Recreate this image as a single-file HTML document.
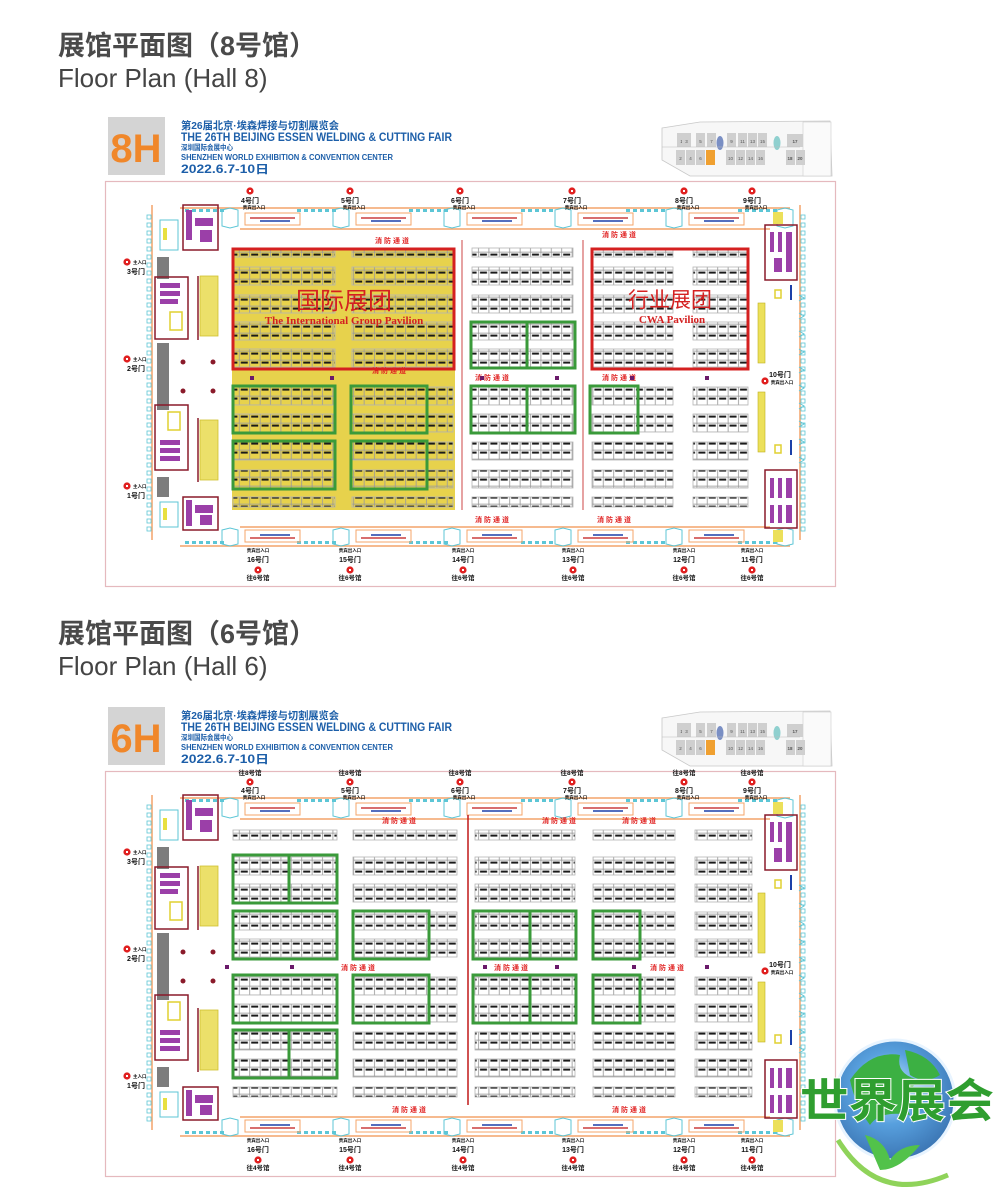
<!DOCTYPE html>
<html><head><meta charset="utf-8">
<style>
html,body{margin:0;padding:0;background:#fff;width:1000px;height:1200px;overflow:hidden}
svg{display:block}
.t{font-family:"Liberation Sans","Noto Sans CJK SC",sans-serif}
</style></head><body>
<svg id="s" width="1000" height="1200" viewBox="0 0 1000 1200" xmlns="http://www.w3.org/2000/svg">
<defs>
<pattern id="bp" patternUnits="userSpaceOnUse" width="10.4" height="9">
<rect x="0.25" y="0.25" width="10.15" height="8.75" fill="none" stroke="#9a9a9a" stroke-width="0.6"/>
<rect x="1.6" y="1.6" width="7" height="2" fill="#1a1a1a"/>
</pattern>
<radialGradient id="gl" cx="45%" cy="40%" r="60%">
<stop offset="0" stop-color="#bfe6ff"/><stop offset="0.5" stop-color="#3a8fd8"/><stop offset="1" stop-color="#1a5fa8"/>
</radialGradient>
</defs>
<g class="t" fill="#4a4a4a" font-weight="bold">
<text x="58" y="55" font-size="27">展馆平面图（8号馆）</text>
<text x="58" y="87" font-size="26" font-weight="normal" fill="#444">Floor Plan (Hall 8)</text>
<text x="58" y="643" font-size="27">展馆平面图（6号馆）</text>
<text x="58" y="675" font-size="26" font-weight="normal" fill="#444">Floor Plan (Hall 6)</text>
</g>
<g id="h8"></g>
<g id="h6" transform="translate(0,590)"></g>
<!-- logo -->
<g>
<circle cx="895" cy="1100" r="60" fill="url(#gl)" opacity="0.85"/>
<circle cx="895" cy="1100" r="60" fill="none" stroke="#e8f4ff" stroke-width="3"/>
<path d="M850 1080 q20 -30 50 -25 q-5 20 20 25 q-20 15 -10 35 q-30 -5 -40 10 q-15 -20 -20 -45z" fill="#3cb043"/>
<path d="M905 1050 q25 5 35 25 q-15 10 -30 0z" fill="#3cb043"/>
<path d="M865 1135 q20 5 25 25 q10 -15 30 -15 q-20 25 -40 25z" fill="#52c24a"/>
<path d="M838 1140 q40 65 110 35" stroke="#8fd35a" stroke-width="5" fill="none"/>
<text x="897" y="1117" text-anchor="middle" class="t" font-size="46" font-weight="bold" fill="#2f9e2f" stroke="#fff" stroke-width="2" paint-order="stroke" textLength="194" lengthAdjust="spacingAndGlyphs">世界展会</text>
</g>
</svg>
<script>
var NS="http://www.w3.org/2000/svg";
function el(g,tag,a,txt){var e=document.createElementNS(NS,tag);for(var k in a)e.setAttribute(k,a[k]);if(txt!==undefined)e.textContent=txt;g.appendChild(e);return e;}
function R(g,x,y,w,h,f,s,sw){return el(g,"rect",{x:x,y:y,width:w,height:h,fill:f||"none",stroke:s||"none","stroke-width":sw||1});}
function T(g,x,y,txt,sz,col,anc,extra){var a={x:x,y:y,"font-size":sz,fill:col||"#111","class":"t","text-anchor":anc||"start","font-weight":"bold"};for(var k in extra)a[k]=extra[k];return el(g,"text",a,txt);}
function L(g,x1,y1,x2,y2,c,w){return el(g,"line",{x1:x1,y1:y1,x2:x2,y2:y2,stroke:c,"stroke-width":w||1});}
function diamond(g,x,y){el(g,"circle",{cx:x,cy:y,r:3.6,fill:"#e02020"});R(g,x-1,y-1,2,2,"#fff");}

function hall(g,num,isH6){
  R(g,108,117,57,58,"#d4d4d4");
  T(g,136,162,num+"H",40,"#f0872a","middle");
  var b="#1d5fa9";
  T(g,181,129,"第26届北京·埃森焊接与切割展览会",10.5,b,"start",{textLength:158,lengthAdjust:"spacingAndGlyphs"});
  T(g,181,141,"THE 26TH BEIJING ESSEN WELDING & CUTTING FAIR",12,b,"start",{textLength:271,lengthAdjust:"spacingAndGlyphs"});
  T(g,181,150,"深圳国际会展中心",7.5,b,"start",{textLength:52,lengthAdjust:"spacingAndGlyphs"});
  T(g,181,160,"SHENZHEN WORLD EXHIBITION & CONVENTION CENTER",8,b,"start",{textLength:212,lengthAdjust:"spacingAndGlyphs"});
  T(g,181,173,"2022.6.7-10日",11.5,b,"start",{textLength:88,lengthAdjust:"spacingAndGlyphs"});
  el(g,"path",{d:"M662 128 L700 122 L830 121 L832 176 L690 176 L662 160 Z",fill:"#f7f7f7",stroke:"#c8c8c8","stroke-width":0.8});
  R(g,803,122,28,54,"#fafafa","#ccc",0.6);
  var tx=[681,686,700,711,731,742,752,762];
  var tl=["1","3","5","7","9","11","13","15"],bl=["2","4","6","","10","12","14","16"];
  for(var i=0;i<8;i++){R(g,tx[i]-4,133,9,14,"#cfcfcf");T(g,tx[i]+0.5,143,tl[i],4.5,"#555","middle",{"font-weight":"normal"});}
  var bx=[680,690,700,710,730,740,750,760];
  for(var i=0;i<8;i++){var c="#cfcfcf";if(i==3)c="#f0a030";R(g,bx[i]-4,150,9,15,c);T(g,bx[i]+0.5,160,bl[i],4.5,"#555","middle",{"font-weight":"normal"});}
  el(g,"ellipse",{cx:720,cy:143,rx:3.5,ry:7,fill:"#7a8fc4"});
  el(g,"ellipse",{cx:777,cy:143,rx:3.5,ry:7,fill:"#8fd0cf"});
  R(g,787,134,16,13,"#cfcfcf");T(g,795,143,"17",4.5,"#555","middle");
  R(g,786,150,9,15,"#cfcfcf");R(g,796,150,9,15,"#cfcfcf");
  T(g,790,160,"18",4.5,"#555","middle");T(g,800,160,"20",4.5,"#555","middle");
  L(g,662,147,800,147,"#bbb",0.6);
  R(g,105.5,181.5,730,405,"none","#e5b9be",1.2);
  var oc="#f4a46a",cy="#5cc6d6",rd="#c01818";
  L(g,180,208,790,208,oc,1.5);L(g,240,229,770,229,oc,1.5);
  L(g,240,527,770,527,oc,1.5);L(g,180,546,790,546,oc,1.5);
  L(g,152,205,152,540,oc,1.5);L(g,800,205,800,540,oc,1.5);
  for(var x=185;x<790;x+=7){ if(((x-185)%110)<40){R(g,x,209,4,3,cy);R(g,x,541,4,3,cy);} }
  for(var x=200;x<700;x+=111){
    R(g,x+45,213,55,12,"none",oc,1);L(g,x+50,218,x+95,218,rd,1.2);L(g,x+60,221,x+90,221,"#1b3fa8",1.5);
    R(g,x+45,530,55,12,"none",oc,1);L(g,x+50,538,x+95,538,rd,1.2);L(g,x+60,535,x+90,535,"#1b3fa8",1.5);
  }
  for(var x=200;x<780;x+=111){
    el(g,"path",{d:"M"+(x+22)+" 210 l8 -2 l8 2 l0 16 l-8 2 l-8 -2z",fill:"none",stroke:cy,"stroke-width":1});
    el(g,"path",{d:"M"+(x+22)+" 530 l8 -2 l8 2 l0 14 l-8 2 l-8 -2z",fill:"none",stroke:cy,"stroke-width":1});
  }
  for(var y=215;y<530;y+=8){R(g,147,y,4,4,"none",cy,0.8);R(g,801,y,4,4,"none",cy,0.8);}
  R(g,157,257,12,22,"#7d7d7d");R(g,157,343,12,67,"#7d7d7d");R(g,157,477,12,20,"#7d7d7d");
  R(g,155,277,33,62,"none","#8a1a2a",1.5);R(g,160,283,20,5,"#9b3fa8");R(g,160,291,20,5,"#9b3fa8");R(g,160,299,18,5,"#9b3fa8");R(g,170,312,12,18,"none","#e0d030",1.5);
  R(g,155,405,33,65,"none","#8a1a2a",1.5);R(g,160,440,20,5,"#9b3fa8");R(g,160,448,20,5,"#9b3fa8");R(g,160,456,20,5,"#9b3fa8");R(g,168,412,12,18,"none","#e0d030",1.5);
  R(g,183,205,35,45,"none","#8a1a2a",1.5);R(g,186,210,6,30,"#9b3fa8");R(g,195,218,18,8,"#9b3fa8");R(g,200,230,12,12,"#9b3fa8");
  R(g,183,497,35,33,"none","#8a1a2a",1.5);R(g,186,500,6,26,"#9b3fa8");R(g,195,505,18,8,"#9b3fa8");R(g,200,515,12,10,"#9b3fa8");
  R(g,160,220,18,30,"none",cy,1);R(g,163,228,4,12,"#e8e040");R(g,160,502,18,25,"none",cy,1);R(g,163,508,4,12,"#e8e040");
  R(g,200,276,18,60,"#ece06a","#d0c030",0.8);R(g,200,420,18,60,"#ece06a","#d0c030",0.8);
  L(g,198,276,198,340,"#8a1a2a",1.5);L(g,198,418,198,482,"#8a1a2a",1.5);
  [[183,362],[213,362],[183,391],[213,391]].forEach(function(p){el(g,"circle",{cx:p[0],cy:p[1],r:2.5,fill:"#8a1a2a"});});
  R(g,765,225,32,55,"none","#8a1a2a",1.5);R(g,770,232,4,20,"#9b3fa8");R(g,778,232,4,20,"#9b3fa8");R(g,786,232,6,40,"#9b3fa8");R(g,774,258,8,14,"#9b3fa8");
  R(g,765,470,32,58,"none","#8a1a2a",1.5);R(g,770,478,4,20,"#9b3fa8");R(g,778,478,4,20,"#9b3fa8");R(g,786,478,6,20,"#9b3fa8");R(g,770,505,4,18,"#9b3fa8");R(g,778,505,4,18,"#9b3fa8");R(g,786,505,6,18,"#9b3fa8");
  R(g,758,303,7,60,"#ece05a","#c0b020",0.6);R(g,758,392,7,60,"#ece05a","#c0b020",0.6);
  R(g,775,290,6,8,"none","#e0d030",1.5);R(g,775,445,6,8,"none","#e0d030",1.5);L(g,791,285,791,300,"#1b3fa8",2);L(g,791,440,791,455,"#1b3fa8",2);
  R(g,773,212,10,12,"#ece05a");R(g,773,530,10,12,"#ece05a");
  for(var y=295;y<460;y+=18){el(g,"path",{d:"M799 "+y+" l5 3 l-5 3",fill:"none",stroke:cy,"stroke-width":1});}
  var topX=[250,350,460,572,684,752],topN=["4号门","5号门","6号门","7号门","8号门","9号门"];
  var botX=[258,350,463,573,684,752],botN=["16号门","15号门","14号门","13号门","12号门","11号门"];
  for(var i=0;i<6;i++){
    if(isH6){T(g,topX[i],185,"往8号馆",6.5,"#111","middle");}
    diamond(g,topX[i],isH6?192:191);
    T(g,topX[i],203,topN[i],7,"#111","middle");
    T(g,topX[i]+4,209,"贵宾出入口",4.5,"#111","middle");
    T(g,botX[i],552,"贵宾出入口",4.5,"#111","middle");
    T(g,botX[i],562,botN[i],7,"#111","middle");
    diamond(g,botX[i],570);
    T(g,botX[i],580,isH6?"往4号馆":"往6号馆",6.5,"#111","middle");
  }
  [[262,3],[359,2],[486,1]].forEach(function(p){diamond(g,127,p[0]);T(g,133,p[0]+2,"主入口",4.5,"#111");T(g,136,p[0]+12,p[1]+"号门",7,"#111","middle");});
  diamond(g,765,381);T(g,780,377,"10号门",7,"#111","middle");T(g,782,384,"贵宾出入口",4.5,"#111","middle");
}

function strips(g,cols,rows,yel){
  cols.forEach(function(c){rows.forEach(function(r){
    if(yel&&c[0]<460&&r[0]<505)R(g,c[0],r[0],c[1]-c[0],r[1],"#e7d24c");
    R(g,c[0],r[0],c[1]-c[0],r[1],"url(#bp)","#b5b5b5",0.8);
  });});
}
function fire(g,x,y){T(g,x,y,"消防通道",7,"#e02020","middle",{"letter-spacing":"2"});}

var g8=document.getElementById("h8");
hall(g8,8,false);
R(g8,232,248,223,262,"#e7d24c");
var cols8=[[233,335],[352,453],[472,573],[592,673],[693,748]];
var rows8=[[248,9],[267,18],[295,18],[322,18],[349,18],[387,18],[414,18],[442,18],[470,18],[497,10]];
strips(g8,cols8,rows8,true);
R(g8,233,249,221,120,"none","#d42020",3);R(g8,592,249,156,120,"none","#d42020",3);
T(g8,344,309,"国际展团",24,"#d42020","middle",{"font-weight":"normal"});
el(g8,"text",{x:344,y:324,"font-size":11,fill:"#d42020","text-anchor":"middle","font-family":"Liberation Serif,serif","font-weight":"bold"},"The International Group Pavilion");
T(g8,670,307,"行业展团",21,"#d42020","middle",{"font-weight":"normal"});
el(g8,"text",{x:672,y:323,"font-size":11,fill:"#d42020","text-anchor":"middle","font-family":"Liberation Serif,serif","font-weight":"bold"},"CWA Pavilion");
var gg="#3a9a3a";
[[471,322,104,46],[471,386,104,47],[590,386,48,47],[233,386,102,47],[351,386,76,47],[233,441,102,48],[351,441,76,48]].forEach(function(b){R(g8,b[0],b[1],b[2],b[3],"none",gg,3);});
L(g8,527,322,527,368,gg,3);L(g8,527,386,527,433,gg,3);
fire(g8,393,243);fire(g8,390,373);fire(g8,493,380);fire(g8,620,380);fire(g8,493,522);fire(g8,615,522);fire(g8,620,237);
[[480,376],[555,376],[630,376],[705,376],[250,376],[330,376]].forEach(function(p){R(g8,p[0],p[1],4,4,"#6a1a6a");});
L(g8,462,240,462,510,"#c01818",0.8);L(g8,583,240,583,510,"#c01818",0.8);

var g6=document.getElementById("h6");
hall(g6,6,true);
var cols6=[[233,337],[353,457],[475,575],[593,675],[695,752]];
var rows6=[[240,10],[267,18],[294,18],[322,18],[349,18],[387,18],[414,18],[442,18],[469,18],[497,10]];
strips(g6,cols6,rows6,false);
[[233,265,104,48],[233,321,104,48],[353,321,76,48],[473,321,103,48],[593,321,47,48],[233,385,104,48],[353,385,76,48],[473,385,103,48],[593,385,47,48],[233,440,104,48]].forEach(function(b){R(g6,b[0],b[1],b[2],b[3],"none",gg,3);});
L(g6,289,265,289,313,gg,3);L(g6,530,321,530,369,gg,3);L(g6,530,385,530,433,gg,3);L(g6,289,440,289,488,gg,3);
L(g6,468,225,468,515,"#c01818",1.5);
fire(g6,359,380);fire(g6,512,380);fire(g6,668,380);fire(g6,400,233);fire(g6,560,233);fire(g6,640,233);fire(g6,410,522);fire(g6,630,522);
[[225,375],[290,375],[483,375],[555,375],[632,375],[705,375]].forEach(function(p){R(g6,p[0],p[1],4,4,"#6a1a6a");});
</script>
</body></html>
